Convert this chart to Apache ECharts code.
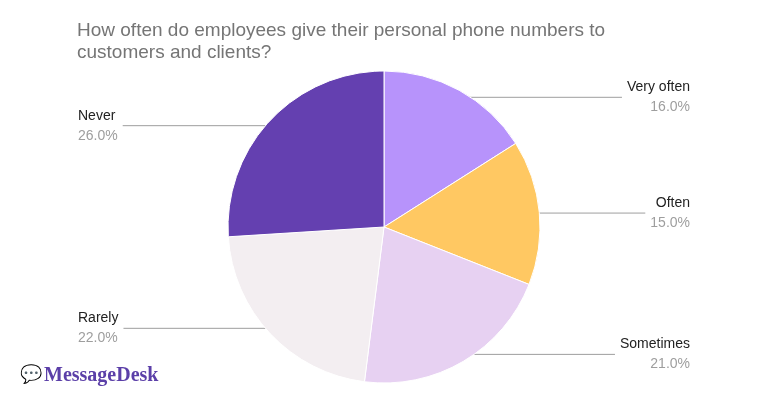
<!DOCTYPE html>
<html><head><meta charset="utf-8">
<script src="https://cdn.jsdelivr.net/npm/echarts@6/dist/echarts.min.js"></script>
<style>html,body{margin:0;padding:0;background:#fff}#c{width:768px;height:403px}</style>
</head><body><div id="c"></div>
<script>
const categories = ["Very often", "Often", "Sometimes", "Rarely", "Never"];
const values = [16.0, 15.0, 21.0, 22.0, 26.0];
const colors = ["#b793fb", "#ffc862", "#e7d1f2", "#f3eef1", "#6440b0"];

const chart = echarts.init(document.getElementById('c'));
const data = categories.map((n, i) => ({ name: n, value: values[i], itemStyle: { color: colors[i] } }));
chart.setOption({
  animation: false,
  title: {
    text: "How often do employees give their personal phone numbers to\ncustomers and clients?",
    left: 72, top: 15,
    textStyle: { fontFamily: "Arial, 'Liberation Sans'", fontSize: 19, fontWeight: 'normal', color: '#757575', lineHeight: 22 }
  },
  graphic: [
    { type: 'text', left: 20, top: 366, style: { text: '💬', fontSize: 18, fill: '#5b3fa8' } },
    { type: 'text', left: 44, top: 366, style: { text: 'MessageDesk', font: 'bold 20px "Liberation Serif", serif', fill: '#5b3fa8' } }
  ],
  series: [
    {
      type: 'pie', center: [384, 227], radius: 156, startAngle: 90, clockwise: true,
      data: data, label: { show: false }, labelLine: { show: false },
      itemStyle: { borderColor: '#fff', borderWidth: 1 }, emphasis: { disabled: true }, silent: true
    },
    {
      type: 'pie', center: [384, 227], radius: 148, startAngle: 90, clockwise: true,
      data: data.map(d => ({ name: d.name, value: d.value, itemStyle: { color: 'rgba(0,0,0,0)' } })),
      silent: true, emphasis: { disabled: true },
      label: {
        show: true, position: 'outside', alignTo: 'edge', edgeDistance: 78,
        formatter: p => '{n|' + p.name + '}\n{p|' + p.value.toFixed(1) + '%}',
        rich: {
          n: { fontFamily: "Arial, 'Liberation Sans'", fontSize: 14, color: '#222', lineHeight: 20 },
          p: { fontFamily: "Arial, 'Liberation Sans'", fontSize: 14, color: '#9e9e9e', lineHeight: 20 }
        }
      },
      labelLine: { show: true, length: 0, length2: 10, lineStyle: { color: '#9e9e9e', width: 1 } }
    }
  ]
});
</script></body></html>
